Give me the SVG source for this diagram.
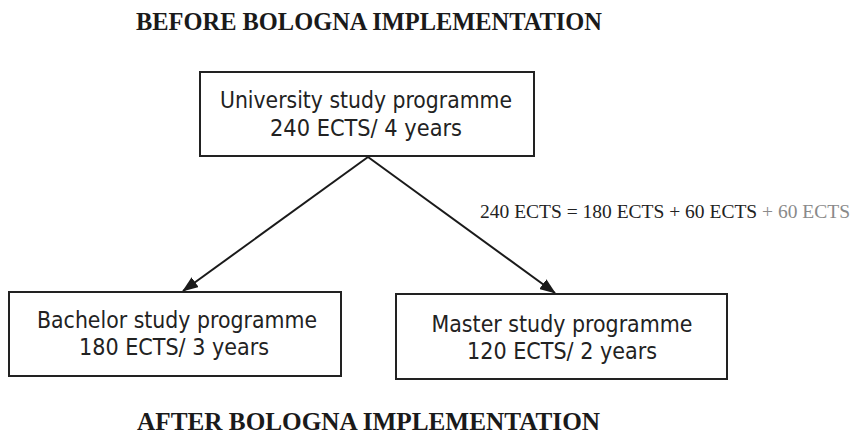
<svg xmlns="http://www.w3.org/2000/svg" width="851" height="436" viewBox="0 0 851 436">
<style>
.box{fill:#fff;stroke:#222;stroke-width:2}
.lbl{font-family:"DejaVu Sans","Liberation Sans",sans-serif;font-size:22.5px;fill:#222;text-anchor:middle}
.title{font-family:"Liberation Serif",serif;font-weight:bold;font-size:26px;fill:#1a1a1a}
.eq{font-family:"Liberation Serif",serif;font-size:19.5px;fill:#222}
.edge{stroke:#1a1a1a;stroke-width:2;fill:none;marker-end:url(#ah)}
</style>
<defs>
<marker id="ah" markerUnits="userSpaceOnUse" markerWidth="16" markerHeight="12" refX="15" refY="6" orient="auto">
<path d="M0,0 L16,6 L0,12 Z" fill="#1a1a1a"/>
</marker>
</defs>
<rect width="851" height="436" fill="#fff"/>
<text class="title" x="136" y="30" textLength="466" lengthAdjust="spacingAndGlyphs">BEFORE BOLOGNA IMPLEMENTATION</text>
<text class="title" x="137" y="430" textLength="463" lengthAdjust="spacingAndGlyphs">AFTER BOLOGNA IMPLEMENTATION</text>
<g id="connectors">
<line class="edge" x1="368" y1="157" x2="183" y2="291"/>
<line class="edge" x1="368" y1="157" x2="555" y2="293"/>
<text class="eq" x="480" y="218" textLength="370" lengthAdjust="spacingAndGlyphs">240 ECTS = 180 ECTS + 60 ECTS<tspan fill="#8a8a8a"> + 60 ECTS</tspan></text>
</g>
<g id="university">
<rect class="box" x="200" y="72" width="334" height="84"/>
<text class="lbl" x="366" y="108" textLength="292" lengthAdjust="spacingAndGlyphs">University study programme</text>
<text class="lbl" x="366" y="136" textLength="192" lengthAdjust="spacingAndGlyphs">240 ECTS/ 4 years</text>
</g>
<g id="bachelor">
<rect class="box" x="9" y="292" width="332" height="84"/>
<text class="lbl" x="177" y="328" textLength="280" lengthAdjust="spacingAndGlyphs">Bachelor study programme</text>
<text class="lbl" x="174" y="355" textLength="190" lengthAdjust="spacingAndGlyphs">180 ECTS/ 3 years</text>
</g>
<g id="master">
<rect class="box" x="396" y="294" width="331" height="85"/>
<text class="lbl" x="562" y="332" textLength="261" lengthAdjust="spacingAndGlyphs">Master study programme</text>
<text class="lbl" x="562" y="359" textLength="190" lengthAdjust="spacingAndGlyphs">120 ECTS/ 2 years</text>
</g>
</svg>
